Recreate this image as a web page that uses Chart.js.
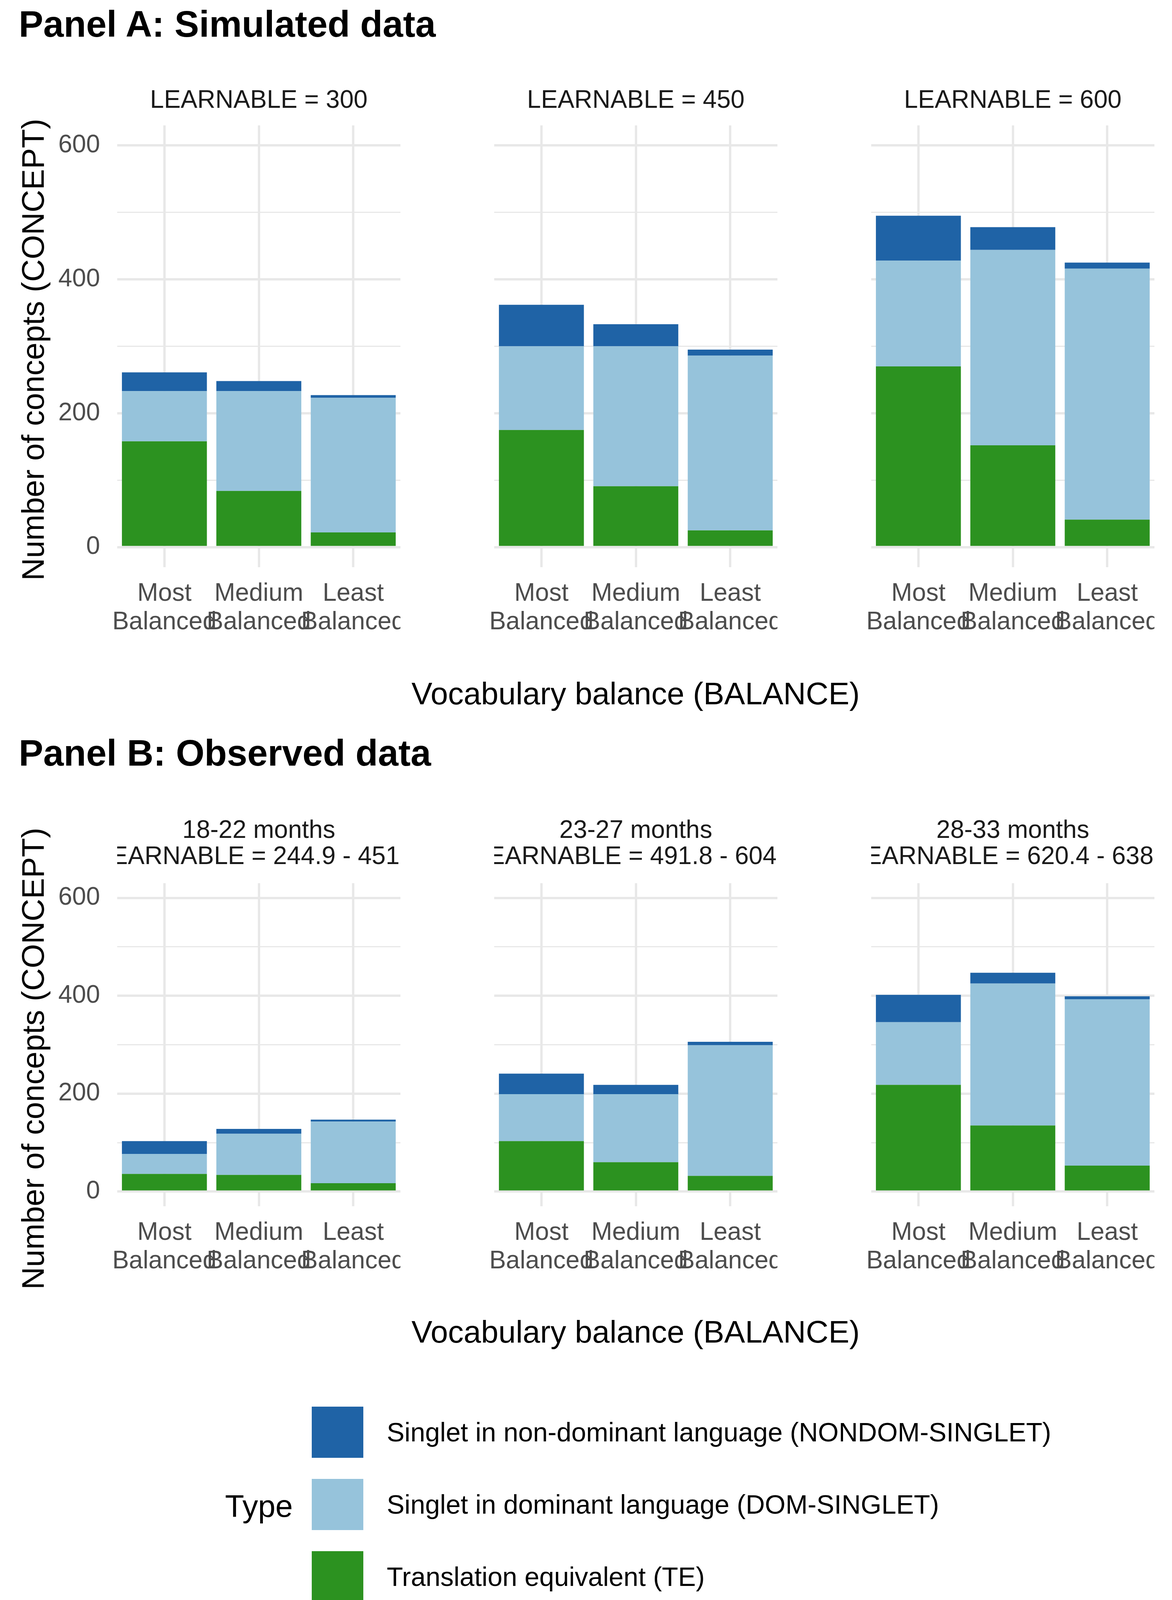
<!DOCTYPE html>
<html>
<head>
<meta charset="utf-8">
<script src="https://cdn.jsdelivr.net/npm/chart.js@4"></script>
<style>
  body { margin:0; width:3000px; height:4200px; background:#fff; position:relative; overflow:hidden; font-family:"Liberation Sans", Arial, sans-serif; }
  .abs { position:absolute; }
  .title { font-weight:bold; font-size:94px; color:#000; line-height:110px; white-space:nowrap; }
  .strip { font-size:64px; color:#1a1a1a; overflow:hidden; white-space:nowrap; display:flex; flex-direction:column; align-items:center; line-height:67px; }
  .xtitle { font-size:80px; color:#000; text-align:center; line-height:96px; }
  .ytitle { font-size:80px; color:#000; text-align:center; line-height:96px; white-space:nowrap; transform:rotate(-90deg); }
  .ltext { font-size:68px; color:#000; line-height:80px; white-space:nowrap; }
</style>
</head>
<body>
<script>
// data
const categories = [['Most', 'Balanced'], ['Medium', 'Balanced'], ['Least', 'Balanced']];
const seriesNames = ['Singlet in non-dominant language (NONDOM-SINGLET)', 'Singlet in dominant language (DOM-SINGLET)', 'Translation equivalent (TE)'];
const seriesColors = ['#1f63a6', '#96c3db', '#2c9220'];

const panelAStrips = [['LEARNABLE = 300'], ['LEARNABLE = 450'], ['LEARNABLE = 600']];
const panelATE      = [[158, 84, 22], [175, 91, 25], [270, 152, 41]];
const panelADom     = [[75, 149, 201], [125, 209, 261], [158, 292, 375]];
const panelANondom  = [[28, 15, 4], [62, 33, 9], [67, 34, 9]];

const panelBStrips = [['18-22 months', 'LEARNABLE = 244.9 - 451.6'], ['23-27 months', 'LEARNABLE = 491.8 - 604.5'], ['28-33 months', 'LEARNABLE = 620.4 - 638.2']];
const panelBTE      = [[36, 34, 17], [103, 60, 32], [218, 135, 53]];
const panelBDom     = [[41, 84, 126], [96, 139, 267], [128, 290, 340]];
const panelBNondom  = [[26, 10, 4], [42, 19, 7], [56, 22, 6]];

const yTicks = [0, 200, 400, 600];

const colLefts = [300, 1265, 2230];
const plotW = 725;
const yAxisW = 200;
const xAxisH = 210;

function el(cls, style, text) {
  const d = document.createElement('div');
  d.className = 'abs ' + cls;
  Object.assign(d.style, style);
  if (text !== undefined) d.innerHTML = text;
  document.body.appendChild(d);
  return d;
}

function makeChart(left, top, plotH, te, dom, nondom, showY) {
  const c = document.createElement('canvas');
  const w = plotW + yAxisW, h = plotH + xAxisH;
  c.width = w; c.height = h;
  c.style.cssText = `position:absolute;left:${left - yAxisW}px;top:${top}px;width:${w}px;height:${h}px`;
  document.body.appendChild(c);
  const mk = (label, data, color) => ({ label, data, backgroundColor: color, borderWidth: 0, barPercentage: 0.9, categoryPercentage: 1 });
  const chart = new Chart(c, {
    type: 'bar',
    data: {
      labels: categories,
      datasets: [mk(seriesNames[2], te, seriesColors[2]), mk(seriesNames[1], dom, seriesColors[1]), mk(seriesNames[0], nondom, seriesColors[0])]
    },
    options: {
      responsive: false, animation: false, devicePixelRatio: 1,
      layout: { padding: 0 },
      plugins: { legend: { display: false }, tooltip: { enabled: false } },
      scales: {
        x: {
          stacked: true,
          grid: { offset: false, color: '#e8e8e8', lineWidth: 6, drawTicks: false },
          border: { display: false },
          ticks: { color: '#4d4d4d', font: { size: 64, family: 'Liberation Sans', lineHeight: 1.14 }, autoSkip: false, maxRotation: 0, padding: 32 },
          afterFit: s => { s.height = xAxisH; s.paddingLeft = 0; s.paddingRight = 0; }
        },
        y: {
          stacked: true, min: -30, max: 630,
          afterBuildTicks: s => { s.ticks = [0, 100, 200, 300, 400, 500, 600].map(v => ({ value: v })); },
          grid: { color: '#e8e8e8', lineWidth: ctx => (yTicks.includes(ctx.tick.value) ? 6 : 3), drawTicks: false },
          border: { display: false },
          ticks: { color: '#4d4d4d', font: { size: 64, family: 'Liberation Sans' }, padding: 44,
                   callback: v => (showY && yTicks.includes(v) ? String(v) : '') },
          afterFit: s => { s.width = yAxisW; s.paddingTop = 0; s.paddingBottom = 0; }
        }
      }
    }
  });
  // align chart area to the target plot rectangle
  const a = chart.chartArea;
  c.style.left = (left - a.left) + 'px';
  c.style.top = (top - a.top) + 'px';
}

function strips(list, topY) {
  list.forEach((s, i) => el('strip', { left: colLefts[i] + 'px', top: topY + 'px', width: plotW + 'px' },
    s.map(t => '<span>' + t + '</span>').join('')));
}

// Panel A
el('title', { left: '48px', top: '7px' }, 'Panel A: Simulated data');
strips(panelAStrips, 221);
for (let i = 0; i < 3; i++) makeChart(colLefts[i], 321, 1131, panelATE[i], panelADom[i], panelANondom[i], i === 0);
el('ytitle', { left: (85 - 800) + 'px', top: (895 - 48) + 'px', width: '1600px' }, 'Number of concepts (CONCEPT)');
el('xtitle', { left: '300px', width: '2654px', top: (1776 - 48) + 'px' }, 'Vocabulary balance (BALANCE)');

// Panel B
el('title', { left: '48px', top: '1873px' }, 'Panel B: Observed data');
strips(panelBStrips, 2123 - 33);
for (let i = 0; i < 3; i++) makeChart(colLefts[i], 2261, 827, panelBTE[i], panelBDom[i], panelBNondom[i], i === 0);
el('ytitle', { left: (85 - 800) + 'px', top: (2710 - 48) + 'px', width: '1600px' }, 'Number of concepts (CONCEPT)');
el('xtitle', { left: '300px', width: '2654px', top: (3410 - 48) + 'px' }, 'Vocabulary balance (BALANCE)');

// Legend
el('ltext', { left: '576px', top: (3856 - 48) + 'px', fontSize: '80px', lineHeight: '96px' }, 'Type');
seriesNames.forEach((n, i) => {
  const top = 3601 + i * 185;
  el('key', { left: '798px', top: top + 'px', width: '132px', height: '131px', background: seriesColors[i] });
  el('ltext', { left: '990px', top: (top + 65 - 40) + 'px' }, n);
});
</script>
</body>
</html>
